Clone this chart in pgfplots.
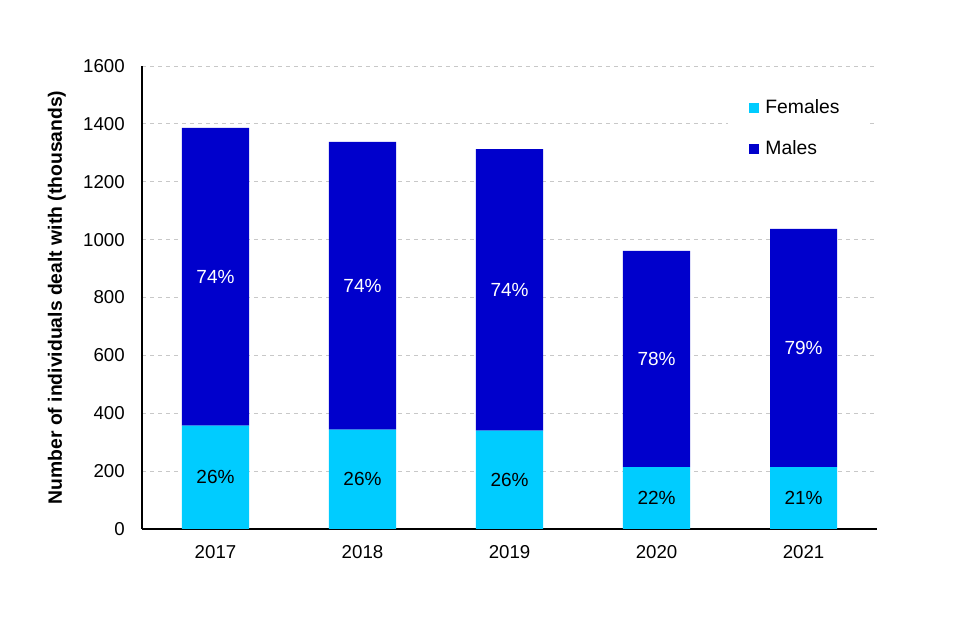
\documentclass[border=0pt]{standalone}
\usepackage{fontspec}
\setmainfont{Liberation Sans}
\usepackage{pgfplots}
\usepackage{pgfplotstable}
\pgfplotsset{compat=1.18}

\definecolor{fem}{HTML}{00CCFF}
\definecolor{mal}{HTML}{0000CC}
\definecolor{gridgray}{HTML}{C8C8C8}

% thousands of individuals
\pgfplotstableread{
x female male
0 357 1029
1 343 995
2 340 973
3 214 747
4 214 823
}\counts

% label positions (segment mid-points)
\pgfplotstableread{
x y label
0 178.5 26\%
1 171.5 26\%
2 170 26\%
3 107 22\%
4 107 21\%
}\femlabels
\pgfplotstableread{
x y label
0 871.5 74\%
1 840.5 74\%
2 826.5 74\%
3 587.5 78\%
4 625.5 79\%
}\mallabels

\pgfplotsset{
  base/.style={
    scale only axis,
    width=551.25pt, height=347.25pt,
    xmin=-0.5, xmax=4.5,
    ymin=0, ymax=1600,
  },
}

\begin{document}
\fontsize{14}{16.5}\selectfont
\begin{tikzpicture}
\begin{axis}[
  base,
  ybar stacked,
  bar width=0.456,
  axis x line*=bottom,
  axis y line*=left,
  axis line style={black, line width=0.9pt},
  xtick={0,1,2,3,4},
  xticklabels={2017,2018,2019,2020,2021},
  ytick={0,200,...,1600},
  major tick length=0pt,
  tick style={draw=none},
  ymajorgrids=true,
  grid style={gridgray, dashed, line width=0.6pt},
  xticklabel style={anchor=center, yshift=-17.25pt},
  yticklabel style={anchor=east, inner sep=0pt, xshift=-12.75pt},
  /pgf/number format/assume math mode=true,
  /pgf/number format/1000 sep={},
  ylabel={\fontsize{14.5}{17}\selectfont\bfseries Number of individuals dealt with (thousands)},
  ylabel style={at={(axis description cs:-0.1158,0.5)}, anchor=center, rotate=0},
  legend style={
    at={(rel axis cs:0.797,0.955)}, anchor=north west,
    draw=none, fill=white,
    inner xsep=16pt, inner ysep=8pt,
    row sep=15pt,
    nodes={inner xsep=4.5pt, inner ysep=1.5pt},
    font=\fontsize{14.5}{17}\selectfont,
  },
  legend cell align=left,
  legend image code/.code={\fill[#1, draw=none] (0pt,-3.75pt) rectangle (7.5pt,3.75pt);},
]
\addplot[fill=fem, draw=none] table[x=x, y=female] {\counts};
\addlegendentry{Females}
\addplot[fill=mal, draw=none] table[x=x, y=male] {\counts};
\addlegendentry{Males}
\coordinate (bl) at (rel axis cs:-0.1932,-0.2397);
\coordinate (tr) at (rel axis cs:1.1129,1.1425);
\end{axis}
\begin{axis}[
  base,
  hide axis,
  clip=false,
]
\addplot[draw=none, mark=none, nodes near coords, point meta=explicit symbolic,
  every node near coord/.style={anchor=center, text=black, font=\fontsize{14.25}{17}\selectfont}]
  table[x=x, y=y, meta=label] {\femlabels};
\addplot[draw=none, mark=none, nodes near coords, point meta=explicit symbolic,
  every node near coord/.style={anchor=center, text=white, font=\fontsize{14.25}{17}\selectfont}]
  table[x=x, y=y, meta=label] {\mallabels};
\end{axis}
\path (bl) rectangle (tr);
\end{tikzpicture}
\end{document}
